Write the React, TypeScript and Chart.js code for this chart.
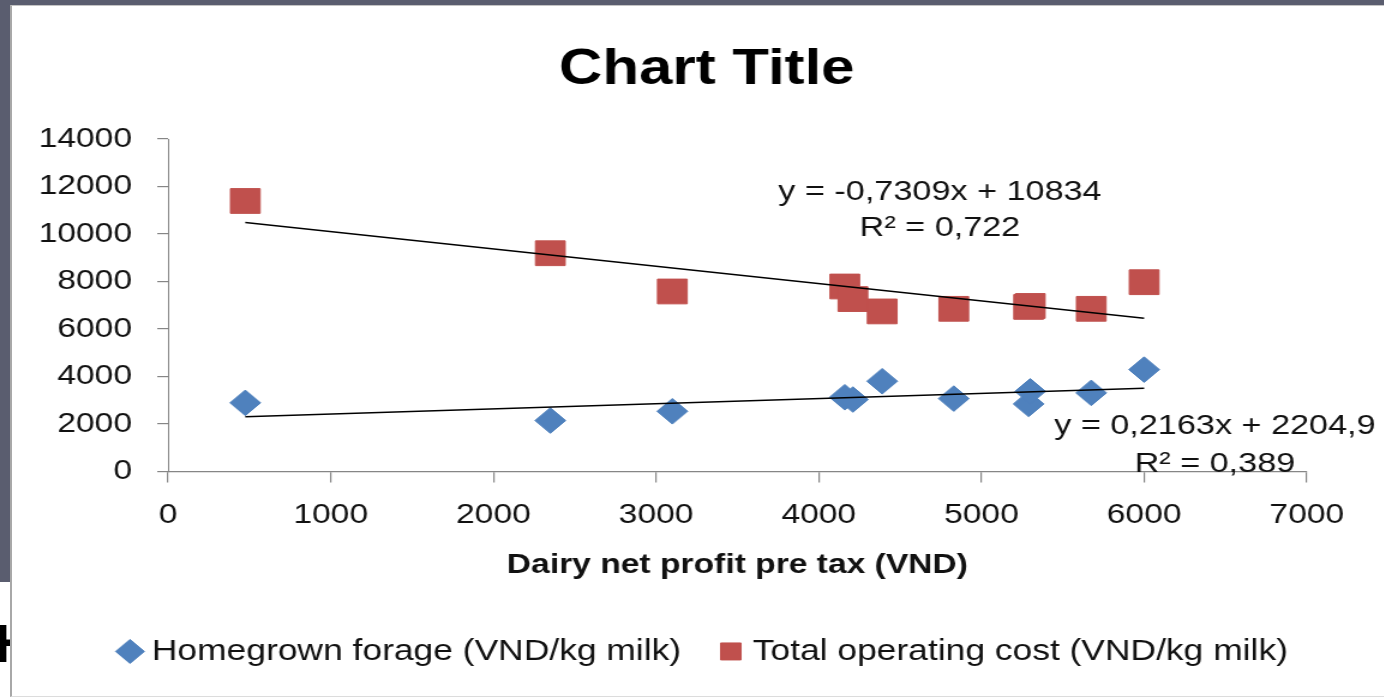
import React, { useEffect, useRef } from "react";
import { Chart, registerables } from "chart.js";

Chart.register(...registerables);

// ---- data ----
const profitVND = [475, 2350, 3100, 4160, 4210, 4390, 4830, 5290, 5300, 5675, 6000];
const homegrownForage = [2890, 2145, 2535, 3125, 3030, 3800, 3070, 2845, 3375, 3310, 4290];
const totalOperatingCost = [11390, 9190, 7580, 7790, 7260, 6740, 6850, 6930, 6970, 6850, 7970];
const seriesNames = ["Homegrown forage (VND/kg milk)", "Total operating cost (VND/kg milk)"];
const trendSlopes = [0.2163, -0.7309];
const trendIntercepts = [2204.9, 10834];
const trendEquations = ["y = 0,2163x + 2204,9", "y = -0,7309x + 10834"];
const trendR2 = ["R² = 0,389", "R² = 0,722"];
const xTickValues = [0, 1000, 2000, 3000, 4000, 5000, 6000, 7000];
const yTickValues = [0, 2000, 4000, 6000, 8000, 10000, 12000, 14000];

const FONT = "'Liberation Sans', Arial, Helvetica, sans-serif";
const TEXT = "#111111";
const AXIS = "#868686";
const BLUE = "#4F81BD";
const RED = "#C0504D";

const trendLabelPlugin = {
  id: "trendLabels",
  afterDatasetsDraw(chart: any) {
    const { ctx, scales } = chart;
    const xs = scales.x;
    const ys = scales.y;
    // anchors in data space: [x, y of equation, y of R²]
    const anchors = [
      [6435, 1920, 330],
      [4745, 11780, 10230],
    ];
    ctx.save();
    ctx.font = `28.5px ${FONT}`;
    ctx.fillStyle = TEXT;
    ctx.textAlign = "center";
    ctx.textBaseline = "middle";
    anchors.forEach((a, i) => {
      const px = xs.getPixelForValue(a[0]);
      ctx.fillText(trendEquations[i], px, ys.getPixelForValue(a[1]));
      ctx.fillText(trendR2[i], px, ys.getPixelForValue(a[2]));
    });
    ctx.restore();
  },
};

export default function App() {
  const ref = useRef<HTMLCanvasElement | null>(null);

  useEffect(() => {
    const canvas = ref.current;
    if (!canvas) return;
    Chart.defaults.font.family = FONT;
    const xMin = Math.min(...profitVND);
    const xMax = Math.max(...profitVND);
    const trend = (i: number) => [
      { x: xMin, y: trendSlopes[i] * xMin + trendIntercepts[i] },
      { x: xMax, y: trendSlopes[i] * xMax + trendIntercepts[i] },
    ];

    const chart = new Chart(canvas, {
      type: "scatter",
      data: {
        datasets: [
          {
            label: seriesNames[0],
            data: profitVND.map((x, i) => ({ x, y: homegrownForage[i] })),
            pointStyle: "rectRot",
            pointRadius: 12.8,
            pointHoverRadius: 12.8,
            backgroundColor: BLUE,
            borderColor: BLUE,
            borderWidth: 1,
            order: 1,
          },
          {
            label: seriesNames[1],
            data: profitVND.map((x, i) => ({ x, y: totalOperatingCost[i] })),
            pointStyle: "rect",
            pointRadius: 17.5,
            pointHoverRadius: 17.5,
            backgroundColor: RED,
            borderColor: RED,
            borderWidth: 1,
            order: 1,
          },
          {
            label: "trend-forage",
            data: trend(0),
            showLine: true,
            pointRadius: 0,
            borderColor: "#000000",
            borderWidth: 1.5,
            order: 0,
          },
          {
            label: "trend-cost",
            data: trend(1),
            showLine: true,
            pointRadius: 0,
            borderColor: "#000000",
            borderWidth: 1.5,
            order: 0,
          },
        ],
      } as any,
      options: {
        animation: false,
        responsive: false,
        devicePixelRatio: 1,
        events: [],
        layout: { padding: { left: 20, right: 5, top: 0, bottom: 20.8 } },
        scales: {
          x: {
            type: "linear",
            min: 0,
            max: 7000,
            afterBuildTicks: (s: any) => {
              s.ticks = xTickValues.map((v) => ({ value: v }));
            },
            ticks: {
              font: { family: FONT, size: 28 },
              color: TEXT,
              padding: 16,
              maxRotation: 0,
              autoSkip: false,
              callback: (v: any) => String(v),
            },
            grid: { drawOnChartArea: false, tickLength: 11, color: AXIS, lineWidth: 1.2 },
            border: { color: AXIS, width: 1.2 },
            title: {
              display: true,
              text: "Dairy net profit pre tax (VND)",
              font: { family: FONT, size: 28, weight: "bold" },
              color: TEXT,
              padding: { top: 0, bottom: 17 },
            },
          },
          y: {
            type: "linear",
            position: "left",
            min: 0,
            max: 14000,
            afterBuildTicks: (s: any) => {
              s.ticks = yTickValues.map((v) => ({ value: v }));
            },
            afterFit: (s: any) => {
              s.width = 110;
            },
            ticks: {
              font: { family: FONT, size: 28 },
              color: TEXT,
              padding: 21,
              callback: (v: any) => String(v),
            },
            grid: { drawOnChartArea: false, tickLength: 9, color: AXIS, lineWidth: 1.2 },
            border: { color: AXIS, width: 1 },
          },
          yRightSpace: {
            type: "linear",
            position: "right",
            min: 0,
            max: 14000,
            afterFit: (s: any) => {
              s.width = 59;
            },
            ticks: { display: false },
            grid: { display: false, drawTicks: false },
            border: { display: false },
          },
        },
        plugins: {
          title: {
            display: true,
            text: "Chart Title",
            font: { family: FONT, size: 50, weight: "bold" },
            color: "#000000",
            padding: { top: 34, bottom: 39 },
          },
          legend: {
            position: "bottom",
            labels: {
              usePointStyle: true,
              boxWidth: 7,
              boxHeight: 17,
              padding: 38,
              font: { family: FONT, size: 29.5 },
              color: TEXT,
              filter: (item: any) => item.datasetIndex < 2,
            },
          },
          tooltip: { enabled: false },
        },
      } as any,
      plugins: [trendLabelPlugin],
    });

    return () => chart.destroy();
  }, []);

  return (
    <div
      style={{
        position: "fixed",
        left: 0,
        top: 0,
        width: 1384,
        height: 697,
        background: "#ffffff",
        overflow: "hidden",
      }}
    >
      <div style={{ position: "absolute", left: 0, top: 0, width: 1384, height: 5, background: "#5a5d6f" }} />
      <div style={{ position: "absolute", left: 0, top: 0, width: 10, height: 582, background: "#5a5d6f" }} />
      <div
        style={{
          position: "absolute",
          left: -5,
          top: 608,
          fontFamily: FONT,
          fontWeight: "bold",
          fontSize: 54,
          lineHeight: "70px",
          color: "#000000",
        }}
      >
        H
      </div>
      <div
        style={{
          position: "absolute",
          left: 10,
          top: 5,
          width: 1374,
          height: 692,
          background: "#ffffff",
          borderLeft: "2px solid #a8a8a8",
          borderTop: "1px solid #c4c4c4",
          borderBottom: "1px solid #dcdcdc",
          boxSizing: "border-box",
        }}
      />
      <div
        style={{
          position: "absolute",
          left: 12,
          top: 6,
          width: 1143,
          height: 691,
          transform: "scaleX(1.2)",
          transformOrigin: "0 0",
        }}
      >
        <canvas ref={ref} width={1143} height={691} style={{ width: 1143, height: 691, display: "block" }} />
      </div>
    </div>
  );
}
